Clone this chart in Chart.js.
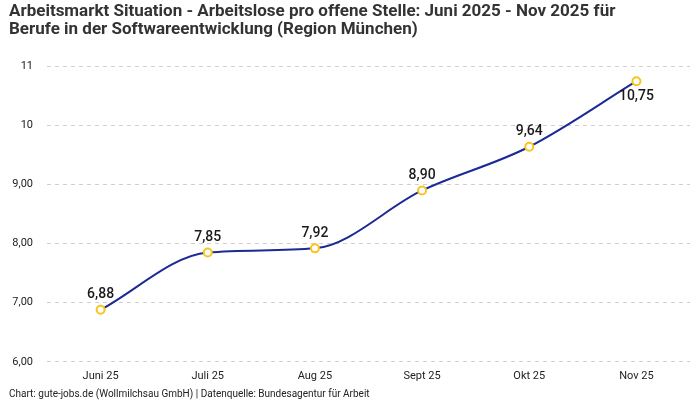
<!DOCTYPE html>
<html>
<head>
<meta charset="utf-8">
<script src="https://cdn.jsdelivr.net/npm/chart.js@4"></script>
<style>
  html, body { margin: 0; padding: 0; background: #fff; }
  #wrap { width: 700px; height: 400px; }
</style>
</head>
<body>
<div id="wrap"><canvas id="chart" width="700" height="400"></canvas></div>
<script>
const months = ['Juni 25', 'Juli 25', 'Aug 25', 'Sept 25', 'Okt 25', 'Nov 25'];
const ratio = [6.88, 7.85, 7.92, 8.90, 9.64, 10.75];
const titleLines = [
    'Arbeitsmarkt Situation - Arbeitslose pro offene Stelle: Juni 2025 - Nov 2025 für',
    'Berufe in der Softwareentwicklung (Region München)'
];
const sourceText = 'Chart: gute-jobs.de (Wollmilchsau GmbH) | Datenquelle: Bundesagentur für Arbeit';

const fontFamily = 'Roboto, "Noto Sans", sans-serif';

function fmt(v) {
    return v.toFixed(2).replace('.', ',');
}

// draws the value above each point (last one below, it would hit the top)
const valueLabels = {
    id: 'valueLabels',
    afterDatasetsDraw(chart) {
        const ctx = chart.ctx;
        const meta = chart.getDatasetMeta(0);
        ctx.save();
        ctx.font = '500 14px ' + fontFamily;
        ctx.fillStyle = '#1a1a1a';
        ctx.textAlign = 'center';
        ctx.textBaseline = 'middle';
        meta.data.forEach((pt, i) => {
            const last = i === meta.data.length - 1;
            const y = last ? pt.y + 15 : pt.y - 15;
            ctx.fillText(fmt(ratio[i]), pt.x, y);
        });
        ctx.restore();
    }
};

new Chart(document.getElementById('chart'), {
    type: 'line',
    data: {
        labels: months,
        datasets: [{
            data: ratio,
            borderColor: '#1b2a94',
            borderWidth: 2,
            cubicInterpolationMode: 'monotone',
            pointRadius: 4,
            pointBorderWidth: 2,
            pointBorderColor: '#f7c51c',
            pointBackgroundColor: '#ffffff',
            fill: false
        }]
    },
    options: {
        responsive: false,
        animation: false,
        layout: { padding: { left: 9, right: 10, top: 0, bottom: 0 } },
        scales: {
            x: {
                offset: true,
                grid: { display: false },
                border: { display: false },
                ticks: { color: '#222', font: { family: fontFamily, size: 11 }, padding: 0 }
            },
            y: {
                min: 6,
                max: 11,
                border: { display: false, dash: [4, 4] },
                grid: { color: '#cfcfcf', drawTicks: false },
                ticks: {
                    stepSize: 1,
                    color: '#222',
                    padding: 14,
                    font: { family: fontFamily, size: 11 },
                    callback: v => v >= 10 ? String(v) : fmt(v)
                },
                afterFit(scale) { scale.width = 38; }
            }
        },
        plugins: {
            legend: { display: false },
            tooltip: { enabled: false },
            title: {
                display: true,
                text: titleLines,
                align: 'start',
                color: '#333',
                font: { family: fontFamily, size: 17, weight: 'bold', lineHeight: 1.1 },
                padding: { top: 2, bottom: 27 }
            },
            subtitle: {
                display: true,
                position: 'bottom',
                text: sourceText,
                align: 'start',
                color: '#222',
                font: { family: fontFamily, size: 10 },
                padding: { top: 5, bottom: 0 }
            }
        }
    },
    plugins: [valueLabels]
});
</script>
</body>
</html>
